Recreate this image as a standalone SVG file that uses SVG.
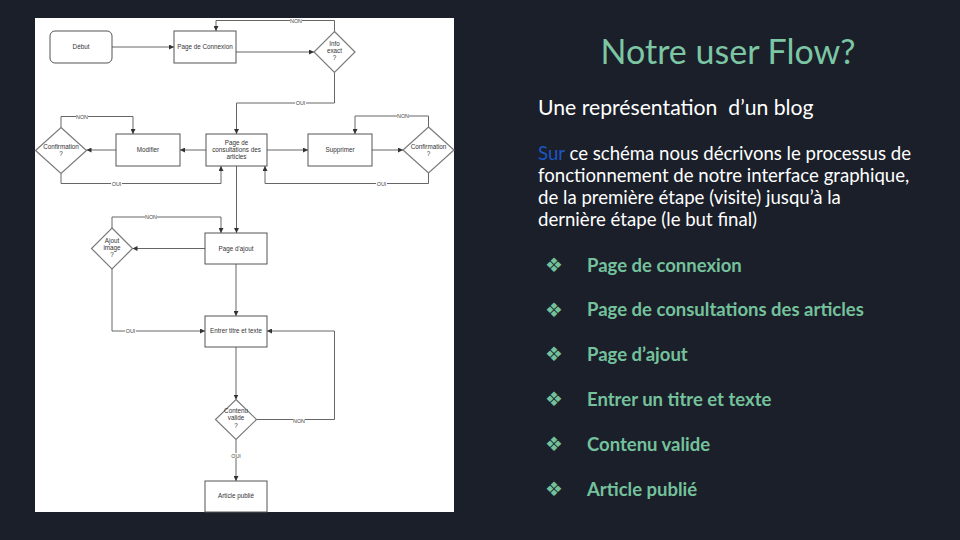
<svg xmlns="http://www.w3.org/2000/svg" width="960" height="540" viewBox="0 0 960 540">
  <style>
    .box { fill: #ffffff; stroke: #555555; stroke-width: 1; }
    .dia { fill: #ffffff; stroke: #7a7a7a; stroke-width: 1.2; }
    .lbl { font-family: "Liberation Sans", Arial, sans-serif; font-size: 6.3px; fill: #333333; text-anchor: middle; }
    .edge { fill: none; stroke: #666666; stroke-width: 1; }
    .elbl { font-family: "Liberation Sans", Arial, sans-serif; font-size: 5.4px; fill: #444444; text-anchor: middle; }
    .title { font-family: Lato, "Open Sans", sans-serif; font-size: 34px; fill: #7cc6a4; text-anchor: middle; }
    .sub { font-family: Lato, "Open Sans", sans-serif; font-size: 21.2px; fill: #ffffff; }
    .para { font-family: Lato, "Open Sans", sans-serif; font-size: 18.6px; fill: #ffffff; }
    .bul { font-family: "DejaVu Sans", sans-serif; font-size: 20px; fill: #74c29c; }
    .item { font-family: Lato, "Open Sans", sans-serif; font-weight: bold; font-size: 18.5px; fill: #74c29c; }
  </style>
  <defs>
    <marker id="arr" viewBox="0 0 6 6" refX="6" refY="3" markerWidth="5" markerHeight="5" markerUnits="userSpaceOnUse" orient="auto">
      <path d="M0,0 L6,3 L0,6 z" fill="#333333"/>
    </marker>
  </defs>

  <!-- slide background -->
  <rect x="0" y="0" width="960" height="540" fill="#1b1f2a"/>

  <!-- flowchart sheet -->
  <rect x="35" y="18" width="419" height="494" fill="#ffffff"/>

  <!-- connectors -->
  <g id="connectors">
    <path class="edge" d="M112,47 H174" marker-end="url(#arr)"/>
    <path class="edge" d="M236,52 H314" marker-end="url(#arr)"/>
    <path class="edge" d="M334.5,31.5 V20.5 H216 V31" marker-end="url(#arr)"/>
    <path class="edge" d="M334.5,72.5 V103 H236.5 V134" marker-end="url(#arr)"/>
    <path class="edge" d="M206,150 H180" marker-end="url(#arr)"/>
    <path class="edge" d="M116,150 H86.5" marker-end="url(#arr)"/>
    <path class="edge" d="M61,127.5 V116.5 H133 V134" marker-end="url(#arr)"/>
    <path class="edge" d="M61,173.5 V183.5 H221 V166" marker-end="url(#arr)"/>
    <path class="edge" d="M267,150 H308" marker-end="url(#arr)"/>
    <path class="edge" d="M372,150 H403" marker-end="url(#arr)"/>
    <path class="edge" d="M428.5,127 V116 H355 V134" marker-end="url(#arr)"/>
    <path class="edge" d="M428.5,173 V183.5 H265 V166" marker-end="url(#arr)"/>
    <path class="edge" d="M236.5,166 V233" marker-end="url(#arr)"/>
    <path class="edge" d="M205,248.5 H132.5" marker-end="url(#arr)"/>
    <path class="edge" d="M112,228 V217 H221 V233" marker-end="url(#arr)"/>
    <path class="edge" d="M112,269 V331 H205" marker-end="url(#arr)"/>
    <path class="edge" d="M236,264 V316" marker-end="url(#arr)"/>
    <path class="edge" d="M236,347 V399.5" marker-end="url(#arr)"/>
    <path class="edge" d="M256.5,419.5 H334.5 V331 H267" marker-end="url(#arr)"/>
    <path class="edge" d="M236,439.5 V481" marker-end="url(#arr)"/>

    <g id="edge-labels">
      <rect x="290" y="18" width="12" height="5" fill="#ffffff"/>
      <text class="elbl" x="296" y="22.5">NON</text>
      <rect x="295" y="101" width="11" height="5" fill="#ffffff"/>
      <text class="elbl" x="300.5" y="105">OUI</text>
      <rect x="76" y="114" width="12" height="5" fill="#ffffff"/>
      <text class="elbl" x="82" y="118.5">NON</text>
      <rect x="111" y="181" width="11" height="5" fill="#ffffff"/>
      <text class="elbl" x="116.5" y="185.5">OUI</text>
      <rect x="397" y="113.5" width="12" height="5" fill="#ffffff"/>
      <text class="elbl" x="403" y="118">NON</text>
      <rect x="376" y="181" width="11" height="5" fill="#ffffff"/>
      <text class="elbl" x="381.5" y="185.5">OUI</text>
      <rect x="145" y="214.5" width="12" height="5" fill="#ffffff"/>
      <text class="elbl" x="151" y="219">NON</text>
      <rect x="125" y="328.5" width="11" height="5" fill="#ffffff"/>
      <text class="elbl" x="130.5" y="333">OUI</text>
      <rect x="293" y="418" width="12" height="5" fill="#ffffff"/>
      <text class="elbl" x="299" y="422.5">NON</text>
      <rect x="230.5" y="453" width="11" height="5" fill="#ffffff"/>
      <text class="elbl" x="236" y="457.5">OUI</text>
    </g>
  </g>

  <!-- nodes -->
  <g id="debut">
    <rect class="box" x="50" y="31" width="62" height="32" rx="5"/>
    <text class="lbl" x="81" y="49">Début</text>
  </g>
  <g id="page-connexion">
    <rect class="box" x="174" y="31" width="62" height="32"/>
    <text class="lbl" x="205" y="49">Page de Connexion</text>
  </g>
  <g id="info-exact">
    <polygon class="dia" points="334.5,31.5 355,52 334.5,72.5 314,52"/>
    <text class="lbl" x="334.5" y="45.5">Info</text>
    <text class="lbl" x="334.5" y="52.5">exact</text>
    <text class="lbl" x="334.5" y="59.5">?</text>
  </g>
  <g id="page-consultations">
    <rect class="box" x="206" y="134" width="61" height="32"/>
    <text class="lbl" x="236.5" y="144.5">Page de</text>
    <text class="lbl" x="236.5" y="151.5">consultations des</text>
    <text class="lbl" x="236.5" y="158.5">articles</text>
  </g>
  <g id="modifier">
    <rect class="box" x="116" y="134" width="64" height="32"/>
    <text class="lbl" x="148" y="152">Modifier</text>
  </g>
  <g id="confirmation-modifier">
    <polygon class="dia" points="61,127.5 86.5,150.5 61,173.5 35.5,150.5"/>
    <text class="lbl" x="61" y="149">Confirmation</text>
    <text class="lbl" x="61" y="156">?</text>
  </g>
  <g id="supprimer">
    <rect class="box" x="308" y="134" width="64" height="32"/>
    <text class="lbl" x="340" y="152">Supprimer</text>
  </g>
  <g id="confirmation-supprimer">
    <polygon class="dia" points="428.5,127 454,150 428.5,173 403,150"/>
    <text class="lbl" x="428.5" y="148.5">Confirmation</text>
    <text class="lbl" x="428.5" y="155.5">?</text>
  </g>
  <g id="page-ajout">
    <rect class="box" x="205" y="233" width="62" height="31"/>
    <text class="lbl" x="236" y="250.5">Page d'ajout</text>
  </g>
  <g id="ajout-image">
    <polygon class="dia" points="112,228 132.5,248.5 112,269 91.5,248.5"/>
    <text class="lbl" x="112" y="242.5">Ajout</text>
    <text class="lbl" x="112" y="249.5">image</text>
    <text class="lbl" x="112" y="256.5">?</text>
  </g>
  <g id="entrer-titre">
    <rect class="box" x="205" y="316" width="62" height="31"/>
    <text class="lbl" x="236" y="333">Entrer titre et texte</text>
  </g>
  <g id="contenu-valide">
    <polygon class="dia" points="236,399.5 256.5,419.5 236,439.5 215.5,419.5"/>
    <text class="lbl" x="236" y="413">Contenu</text>
    <text class="lbl" x="236" y="420">valide</text>
    <text class="lbl" x="236" y="427.5">?</text>
  </g>
  <g id="article-publie">
    <rect class="box" x="205" y="481" width="62" height="31"/>
    <text class="lbl" x="236" y="498">Article publié</text>
  </g>

  <!-- slide text -->
  <text class="title" x="728" y="64">Notre user Flow?</text>
  <text class="sub" x="538" y="115">Une représentation&#160; d’un blog</text>
  <text class="para">
    <tspan x="538" y="160"><tspan fill="#1a56c4">Sur</tspan> ce schéma nous décrivons le processus de</tspan>
    <tspan x="538" y="182">fonctionnement de notre interface graphique,</tspan>
    <tspan x="538" y="204">de la première étape (visite) jusqu’à la</tspan>
    <tspan x="538" y="226">dernière étape (le but final)</tspan>
  </text>

  <g id="bullets">
    <text class="bul" x="545" y="272">❖</text>
    <text class="item" x="587" y="271.5">Page de connexion</text>
    <text class="bul" x="545" y="316.5">❖</text>
    <text class="item" x="587" y="316">Page de consultations des articles</text>
    <text class="bul" x="545" y="361">❖</text>
    <text class="item" x="587" y="360.5">Page d’ajout</text>
    <text class="bul" x="545" y="406">❖</text>
    <text class="item" x="587" y="405.5">Entrer un titre et texte</text>
    <text class="bul" x="545" y="451">❖</text>
    <text class="item" x="587" y="450.5">Contenu valide</text>
    <text class="bul" x="545" y="496">❖</text>
    <text class="item" x="587" y="495.5">Article publié</text>
  </g>
</svg>
